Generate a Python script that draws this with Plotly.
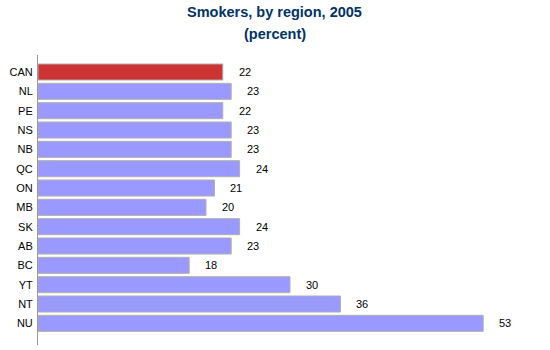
import plotly.graph_objects as go

regions = ["CAN", "NL", "PE", "NS", "NB", "QC", "ON", "MB", "SK", "AB", "BC", "YT", "NT", "NU"]
values = [22, 23, 22, 23, 23, 24, 21, 20, 24, 23, 18, 30, 36, 53]
colors = ["#CC3333"] + ["#9999FF"] * (len(regions) - 1)

fig = go.Figure()
fig.add_trace(go.Bar(
    y=regions, x=values, orientation="h",
    marker=dict(color=colors, line=dict(color="#B0B0B0", width=1)),
    hoverinfo="skip",
))

for r, v in zip(regions, values):
    fig.add_annotation(x=v, y=r, text=str(v), showarrow=False, xanchor="left",
                       xshift=14, font=dict(family="Liberation Sans, Arial", size=11, color="#000000"))

fig.add_annotation(xref="paper", yref="paper", x=0.470, y=1.148, text="<b>Smokers, by region, 2005</b>",
                   showarrow=False, xanchor="center", yanchor="middle",
                   font=dict(family="Liberation Sans, Arial", size=14.5, color="#003366"))
fig.add_annotation(xref="paper", yref="paper", x=0.470, y=1.072, text="<b>(percent)</b>",
                   showarrow=False, xanchor="center", yanchor="middle",
                   font=dict(family="Liberation Sans, Arial", size=14.5, color="#003366"))

fig.update_layout(
    width=550, height=350,
    margin=dict(l=38, r=8, t=55, b=5),
    paper_bgcolor="white", plot_bgcolor="white",
    bargap=0.17,
    showlegend=False,
    xaxis=dict(range=[0, 60], showgrid=False, zeroline=False, showticklabels=False,
               showline=False, ticks=""),
    yaxis=dict(type="category", range=[14.12, -0.88], showgrid=False, zeroline=False,
               showline=True, linecolor="#999999", linewidth=1, ticks="",
               tickfont=dict(family="Liberation Sans, Arial", size=11, color="#000000"),
               ticklabelstandoff=2),
)

fig.write_html("out.html")
